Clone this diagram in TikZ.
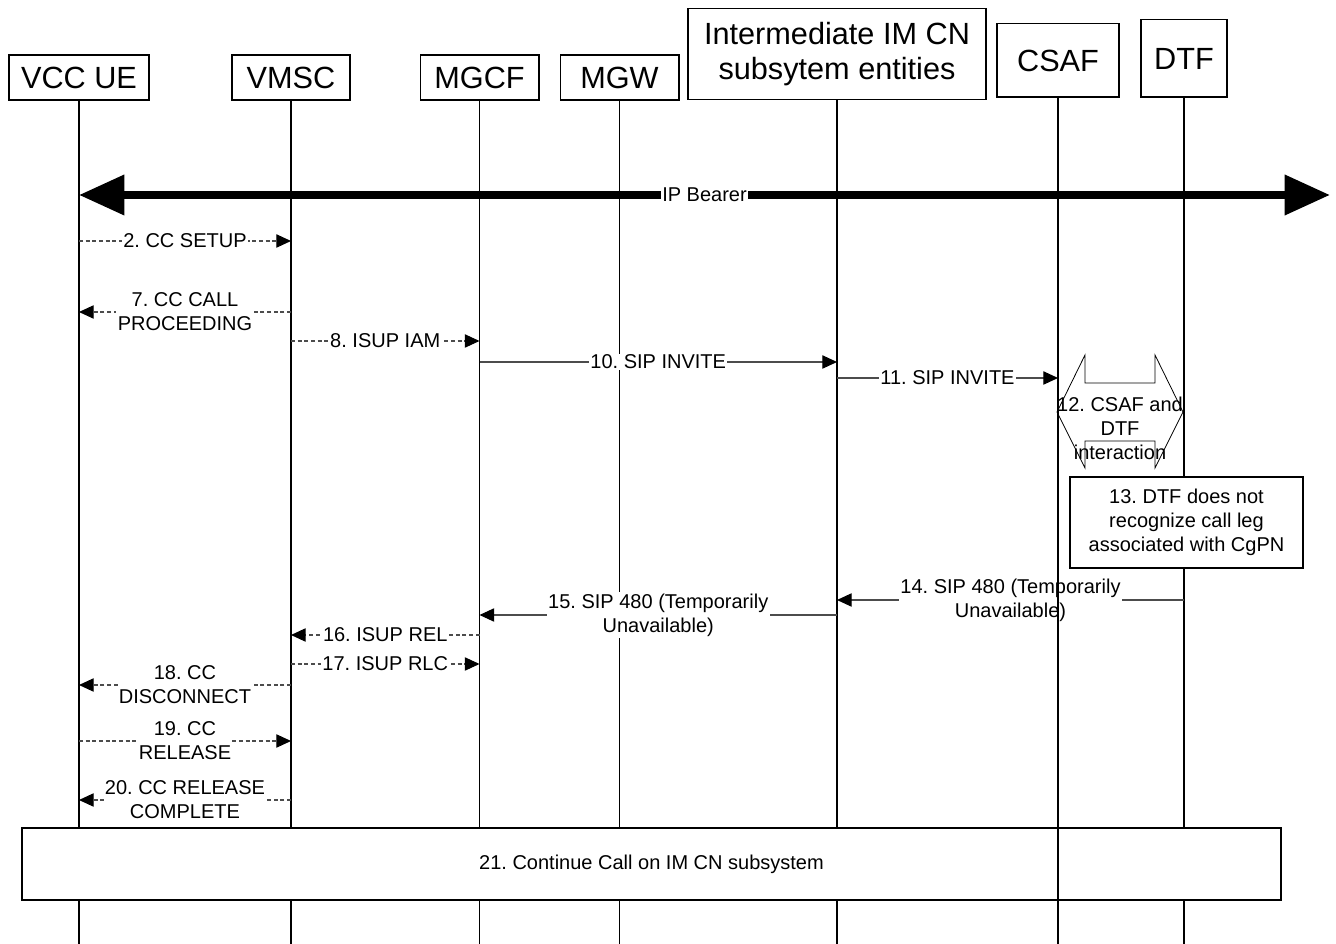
\documentclass[tikz,border=0pt]{standalone}
\usepackage{fontspec}
\setmainfont{Liberation Sans}
\usetikzlibrary{arrows.meta, positioning}
\frenchspacing
\tikzset{
x=0.75pt, y=-0.75pt, % one unit is one pixel of the reference
entity/.style={draw, line width=1pt, fill=white, align=center, font=\fontsize{23}{26}\selectfont}, % the boxes on top
life/.style={line width=1pt}, % the lifelines
msg/.style={draw=black!70, line width=0.8pt, -{Triangle[length=11pt,width=10pt,black]}}, % solid message
dmsg/.style={msg, dash pattern=on 3pt off 2pt}, % dashed message
lbl/.style={fill=white, inner sep=1pt, align=center, font=\fontsize{15}{18}\selectfont}, % text on a message
note/.style={draw, line width=1pt, fill=white, align=center, font=\fontsize{15}{18}\selectfont}, % boxes inside the flow
bearer/.style={line width=6pt, {Triangle[length=34pt,width=29pt]}-{Triangle[length=34pt,width=29pt]}}, % the thick bearer
}

\begin{document}
\begin{tikzpicture}
    \useasboundingbox (0,0) rectangle (1336,944);
    \node[entity, minimum width=105pt, minimum height=33.75pt] (ue) at (79,77.5) {VCC UE};
    \node[entity, minimum width=88.5pt, minimum height=33.75pt] (vmsc) at (291,77.5) {VMSC};
    \node[entity, minimum width=89pt, minimum height=33.75pt] (mgcf) at (479.5,77.5) {MGCF};
    \node[entity, minimum width=89pt, minimum height=33.75pt] (mgw) at (619.5,77.5) {MGW};
    \node[entity, minimum width=223.5pt, minimum height=68pt] (imcn) at (837,54) {Intermediate IM CN\\subsytem entities};
    \node[entity, minimum width=91.5pt, minimum height=55pt] (csaf) at (1058,60.5) {CSAF};
    \node[entity, minimum width=64.5pt, minimum height=58pt] (dtf) at (1184,58.5) {DTF};
    \coordinate (bot) at (0,944);
    % lifelines, the one of CSAF comes last
    \foreach \n in {ue,vmsc,mgcf,mgw,imcn,dtf}
        \draw[life] (\n.south) -- (\n.south |- bot);

    \coordinate (bearerend) at (1330,195);
    \draw[bearer] (ue |- bearerend) -- node[lbl]{IP Bearer} (bearerend);

    % message rows
    \coordinate (m2) at (0,241);
    \coordinate (m7) at (0,312);
    \coordinate (m8) at (0,341);
    \coordinate (m10) at (0,362);
    \coordinate (m11) at (0,378);
    \coordinate (m14) at (0,600);
    \coordinate (m15) at (0,615);
    \coordinate (m16) at (0,635);
    \coordinate (m17) at (0,664);
    \coordinate (m18) at (0,685);
    \coordinate (m19) at (0,741);
    \coordinate (m20) at (0,800);

    \draw[dmsg] (ue |- m2) -- node[lbl]{2. CC SETUP} (vmsc |- m2);
    \draw[dmsg] (vmsc |- m7) -- node[lbl]{7. CC CALL\\PROCEEDING} (ue |- m7);
    \draw[dmsg] (vmsc |- m8) -- node[lbl]{8. ISUP IAM} (mgcf |- m8);
    \draw[msg] (mgcf |- m10) -- node[lbl]{10. SIP INVITE} (imcn |- m10);
    \draw[msg] (imcn |- m11) -- node[lbl]{11. SIP INVITE} (csaf |- m11);
    \draw[msg] (dtf |- m14) -- node[lbl]{14. SIP 480 (Temporarily\\Unavailable)} (imcn |- m14);
    \draw[msg] (imcn |- m15) -- node[lbl]{15. SIP 480 (Temporarily\\Unavailable)} (mgcf |- m15);
    \draw[dmsg] (mgcf |- m16) -- node[lbl]{16. ISUP REL} (vmsc |- m16);
    \draw[dmsg] (vmsc |- m17) -- node[lbl]{17. ISUP RLC} (mgcf |- m17);
    \draw[dmsg] (vmsc |- m18) -- node[lbl]{18. CC\\DISCONNECT} (ue |- m18);
    \draw[dmsg] (ue |- m19) -- node[lbl]{19. CC\\RELEASE} (vmsc |- m19);
    \draw[dmsg] (vmsc |- m20) -- node[lbl]{20. CC RELEASE\\COMPLETE} (ue |- m20);

    % interaction between CSAF and DTF
    \draw[line width=0.6pt] (1057,412) -- (1085,355) -- (1085,383) -- (1155,383) -- (1155,355)
        -- (1183,412) -- (1155,468) -- (1155,441) -- (1085,441) -- (1085,468) -- cycle;
    \node[align=center, inner sep=0pt, font=\fontsize{15}{18}\selectfont] (inter) at (1120,428) {12. CSAF and\\DTF\\interaction};

    \node[note, minimum width=174.75pt, minimum height=68.25pt] (noleg) at (1186.5,522.5) {13. DTF does not\\recognize call leg\\associated with CgPN};
    \node[note, minimum width=944.25pt, minimum height=54pt] (cont) at (651.5,864) {21. Continue Call on IM CN subsystem};

    \draw[life] (csaf.south) -- (csaf.south |- bot);
\end{tikzpicture}
\end{document}
